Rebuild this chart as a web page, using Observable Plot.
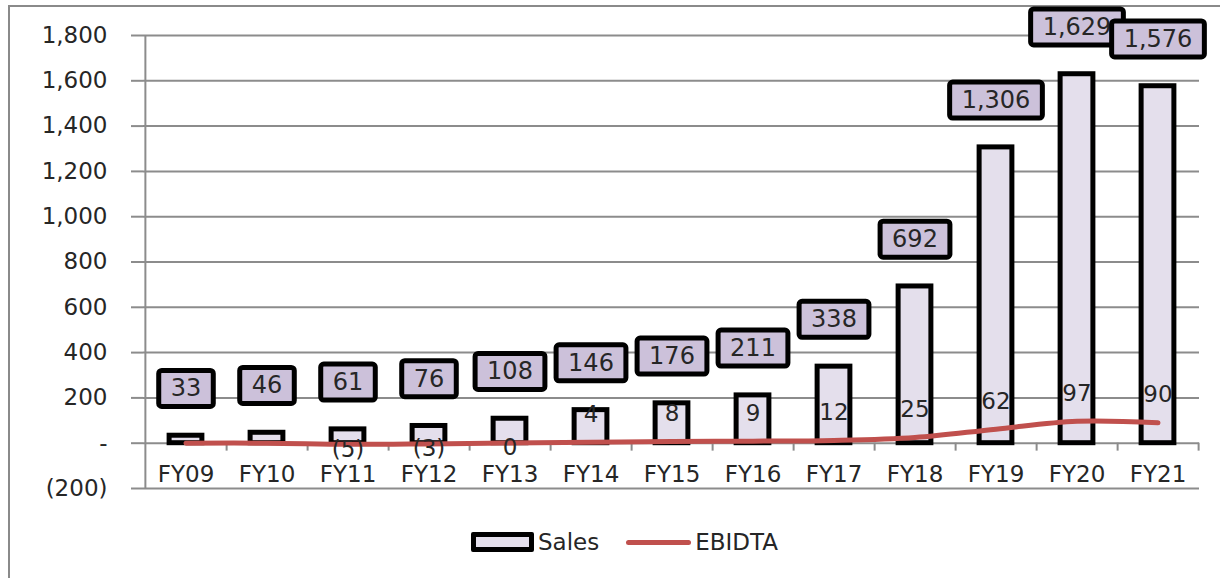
<!DOCTYPE html>
<html><head><meta charset="utf-8">
<script src="https://cdn.jsdelivr.net/npm/d3@7"></script>
<script src="https://cdn.jsdelivr.net/npm/@observablehq/plot@0.6"></script>
<style>
html,body{margin:0;padding:0;background:#fff;overflow:hidden;}
#frame{position:absolute;left:8px;top:5px;width:1210px;height:620px;border:2px solid #8a8a8a;border-bottom:none;}
#chart svg{display:block;}
#legend{display:flex;justify-content:center;align-items:center;margin-top:12px;padding-left:19px;font-family:"DejaVu Sans";font-size:23px;color:#262626;line-height:26px;}
.sw-bar{width:53px;height:10px;border:5px solid #000;background:#E4DFEC;border-radius:2px;margin-right:4px;}
.sw-line{width:65px;height:5px;background:#C0504D;border-radius:3px;margin-left:27px;margin-right:4px;}
</style>
</head><body>
<div id="frame">
  <div id="chart"></div>
  <div id="legend"><div class="sw-bar"></div><span>Sales</span><div class="sw-line"></div><span>EBIDTA</span></div>
</div>
<script>
const categories = ["FY09","FY10","FY11","FY12","FY13","FY14","FY15","FY16","FY17","FY18","FY19","FY20","FY21"];
const sales = [33, 46, 61, 76, 108, 146, 176, 211, 338, 692, 1306, 1629, 1576];
const ebidta = [0, 0, -5, -3, 0.4, 4, 8, 9, 12, 25, 62, 97, 90];
const yTicks = [-200, 0, 200, 400, 600, 800, 1000, 1200, 1400, 1600, 1800];

const rows = categories.map((c, i) => ({cat: c, sales: sales[i], ebidta: ebidta[i]}));

const W = 1210, H = 510, mL = 133, mR = 21, mT = 28, mB = 29;
const bw = (W - mL - mR) / categories.length;
const barInset = (bw - 33) / 2;

const fmtSales = d3.format(",");
const fmtE = v => v < 0 ? `(${d3.format(",.0f")(-v)})` : d3.format(",.0f")(v);
const fmtY = v => v === 0 ? "-" : v < 0 ? `(${d3.format(",")(-v)})` : d3.format(",")(v);
const gridColor = "#8c8c8c";

const plot = Plot.plot({
  width: W, height: H,
  marginLeft: mL, marginRight: mR, marginTop: mT, marginBottom: mB,
  style: {fontFamily: "DejaVu Sans", color: "#262626", background: "transparent", overflow: "visible"},
  x: {domain: categories, padding: 0, axis: null},
  y: {domain: [-200, 1800], axis: null},
  marks: [
    Plot.gridY(yTicks, {stroke: gridColor, strokeOpacity: 1, strokeWidth: 2}),
    Plot.axisY(yTicks, {tickFormat: fmtY, tickSize: 12, tickPadding: 24, stroke: gridColor, strokeWidth: 2, fontSize: 23}),
    Plot.ruleX([categories[0]], {x: d => d, y1: -200, y2: 1800, dx: -bw / 2, stroke: gridColor, strokeWidth: 2}),
    Plot.ruleX(categories, {x: d => d, y1: 0, y2: -35, dx: bw / 2, stroke: gridColor, strokeWidth: 2}),
    Plot.text(categories, {x: d => d, y: () => 0, dy: 31, fontSize: 23, lineAnchor: "middle", fill: "#262626"}),
    Plot.barY(rows, {x: "cat", y: "sales", fill: "#E4DFEC", stroke: "#000", strokeWidth: 5, insetLeft: barInset, insetRight: barInset}),
    Plot.line(rows, {x: "cat", y: "ebidta", stroke: "#C0504D", strokeWidth: 5, curve: "catmull-rom", strokeLinecap: "round"}),
    Plot.text(rows.filter(d => d.ebidta > 1), {x: "cat", y: "ebidta", text: d => fmtE(d.ebidta), dy: -28, fontSize: 23, fill: "#262626"}),
    Plot.text(rows.filter(d => d.ebidta !== 0 && d.ebidta <= 1), {x: "cat", y: "ebidta", text: d => fmtE(d.ebidta), dy: 5, fontSize: 23, fill: "#262626"}),
    Plot.text(rows, {x: "cat", y: "sales", text: d => fmtSales(d.sales), dy: -47, fontSize: 24, fill: "#262626", ariaDescription: "sales-labels"})
  ]
});
document.getElementById("chart").append(plot);

// boxes behind the sales data labels, sized from the rendered text
const ns = "http://www.w3.org/2000/svg";
const lg = plot.querySelector('g[aria-description="sales-labels"]');
if (lg) {
  lg.querySelectorAll("text").forEach(t => {
    const b = t.getBBox();
    const r = document.createElementNS(ns, "rect");
    r.setAttribute("x", b.x - 12);
    r.setAttribute("y", b.y - 4);
    r.setAttribute("width", b.width + 24);
    r.setAttribute("height", b.height + 8);
    r.setAttribute("rx", 3);
    r.setAttribute("fill", "#CCC1DA");
    r.setAttribute("stroke", "#000");
    r.setAttribute("stroke-width", 5);
    const tr = t.getAttribute("transform");
    if (tr) r.setAttribute("transform", tr);
    lg.insertBefore(r, t);
  });
}
</script>
</body></html>
